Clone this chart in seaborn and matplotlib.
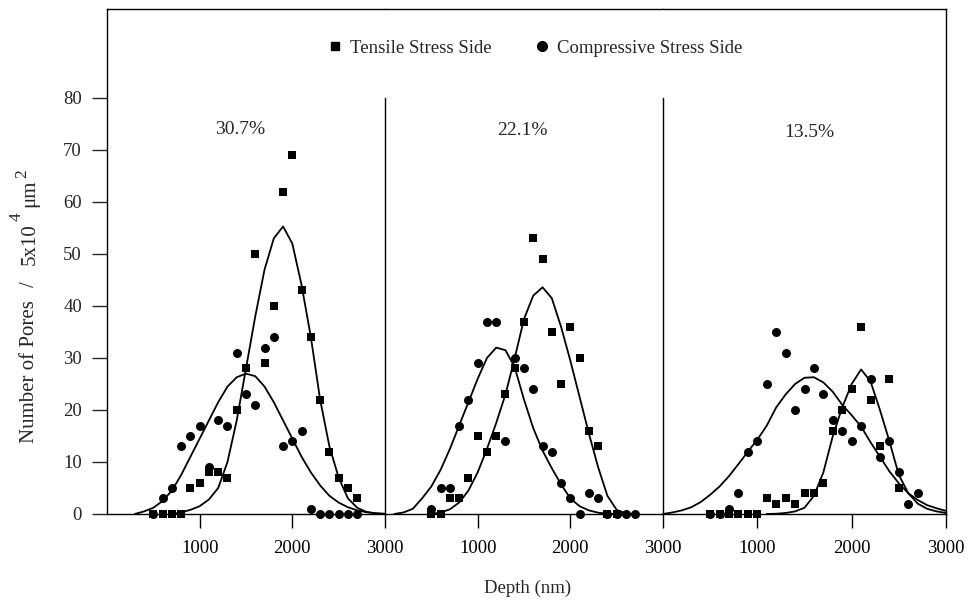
import matplotlib
matplotlib.use("Agg")
import matplotlib.pyplot as plt
import seaborn as sns
import pandas as pd
from matplotlib.lines import Line2D

sns.set_style("ticks")
plt.rcParams['font.family'] = ['Liberation Serif', 'DejaVu Serif']

# ---------------- data ----------------
panel_labels = ["30.7%", "22.1%", "13.5%"]
series_names = ["Tensile Stress Side", "Compressive Stress Side"]

# scatter points (depth in nm, number of pores)
p1_t_depth = [500, 600, 700, 800, 900, 1000, 1100, 1200, 1300, 1400, 1500, 1600,
              1700, 1800, 1900, 2000, 2100, 2200, 2300, 2400, 2500, 2600, 2700]
p1_t_count = [0, 0, 0, 0, 5, 6, 8, 8, 7, 20, 28, 50, 29, 40, 62, 69, 43, 34, 22, 12, 7, 5, 3]
p1_c_depth = [500, 600, 700, 800, 900, 1000, 1100, 1200, 1300, 1400, 1500, 1600,
              1700, 1800, 1900, 2000, 2100, 2200, 2300, 2400, 2500, 2600, 2700]
p1_c_count = [0, 3, 5, 13, 15, 17, 9, 18, 17, 31, 23, 21, 32, 34, 13, 14, 16, 1, 0, 0, 0, 0, 0]

p2_t_depth = [500, 600, 700, 800, 900, 1000, 1100, 1200, 1300, 1400, 1500, 1600,
              1700, 1800, 1900, 2000, 2100, 2200, 2300, 2400, 2500]
p2_t_count = [0, 0, 3, 3, 7, 15, 12, 15, 23, 28, 37, 53, 49, 35, 25, 36, 30, 16, 13, 0, 0]
p2_c_depth = [500, 600, 700, 800, 900, 1000, 1100, 1200, 1300, 1400, 1500, 1600,
              1700, 1800, 1900, 2000, 2100, 2200, 2300, 2400, 2500, 2600, 2700]
p2_c_count = [1, 5, 5, 17, 22, 29, 37, 37, 14, 30, 28, 24, 13, 12, 6, 3, 0, 4, 3, 0, 0, 0, 0]

p3_t_depth = [500, 600, 700, 800, 900, 1000, 1100, 1200, 1300, 1400, 1500, 1600,
              1700, 1800, 1900, 2000, 2100, 2200, 2300, 2400, 2500]
p3_t_count = [0, 0, 0, 0, 0, 0, 3, 2, 3, 2, 4, 4, 6, 16, 20, 24, 36, 22, 13, 26, 5]
p3_c_depth = [500, 600, 700, 800, 900, 1000, 1100, 1200, 1300, 1400, 1500, 1600,
              1700, 1800, 1900, 2000, 2100, 2200, 2300, 2400, 2500, 2600, 2700]
p3_c_count = [0, 0, 1, 4, 12, 14, 25, 35, 31, 20, 24, 28, 23, 18, 16, 14, 17, 26, 11, 14, 8, 2, 4]

# fitted curves
p1_t_fit_depth = [700, 800, 900, 1000, 1100, 1200, 1300, 1400, 1500, 1600, 1700, 1800,
                  1900, 2000, 2100, 2200, 2300, 2400, 2500, 2600, 2700, 2800, 2900, 3000]
p1_t_fit = [0, 0.3, 0.8, 1.5, 2.8, 5, 10, 18, 28, 38, 47, 53,
            55.3, 52, 44, 34, 22, 13, 7, 3, 1.2, 0.4, 0.1, 0]
p1_c_fit_depth = [300, 400, 500, 600, 700, 800, 900, 1000, 1100, 1200, 1300, 1400, 1500, 1600,
                  1700, 1800, 1900, 2000, 2100, 2200, 2300, 2400, 2500, 2600, 2700, 2800, 2900, 3000]
p1_c_fit = [0, 0.5, 1.2, 2.5, 4.5, 7.5, 11, 14.5, 18, 21.5, 24.5, 26.3, 27, 26.5,
            24.5, 21.5, 18, 14.5, 11, 8, 5.5, 3.5, 2.2, 1.3, 0.7, 0.35, 0.15, 0.05]

p2_t_fit_depth = [500, 600, 700, 800, 900, 1000, 1100, 1200, 1300, 1400, 1500, 1600, 1700,
                  1800, 1900, 2000, 2100, 2200, 2300, 2400, 2500, 2600, 2700]
p2_t_fit = [0, 0.3, 0.9, 2.2, 4.5, 8, 12.5, 17.5, 23, 30, 37.5, 42, 43.6,
            41.5, 36, 29.5, 22.5, 15.5, 9, 3.5, 0.8, 0.1, 0]
p2_c_fit_depth = [100, 200, 300, 400, 500, 600, 700, 800, 900, 1000, 1100, 1200, 1300,
                  1400, 1500, 1600, 1700, 1800, 1900, 2000, 2100, 2200, 2300, 2400, 2500]
p2_c_fit = [0, 0.3, 1, 3, 5.3, 8.5, 12.5, 17, 21.5, 26, 30, 32, 31.5,
            28.2, 22, 16.5, 12.2, 8.8, 5.7, 3, 1.5, 0.7, 0.25, 0.05, 0]

p3_t_fit_depth = [1100, 1200, 1300, 1400, 1500, 1600, 1700, 1800, 1900, 2000,
                  2100, 2200, 2300, 2400, 2500, 2600, 2700, 2800, 2900, 3000]
p3_t_fit = [0, 0.05, 0.2, 0.5, 1.2, 3.5, 8, 15, 20.5, 25,
            27.8, 25.5, 20, 14, 7.5, 4, 2, 1, 0.5, 0.2]
p3_c_fit_depth = [0, 100, 200, 300, 400, 500, 600, 700, 800, 900, 1000, 1100, 1200, 1300, 1400,
                  1500, 1600, 1700, 1800, 1900, 2000, 2100, 2200, 2300, 2400, 2500, 2600,
                  2700, 2800, 2900, 3000]
p3_c_fit = [0, 0.3, 0.7, 1.3, 2.3, 3.7, 5.3, 7.3, 9.6, 12, 14.3, 17, 20.5, 23, 25,
            26.2, 26.3, 25.3, 23.5, 21, 19, 16.8, 13.8, 11, 8.2, 5.9, 4,
            2.7, 1.7, 1.1, 0.6]

y_ticks = [0, 10, 20, 30, 40, 50, 60, 70, 80]
x_ticks = [1000, 2000, 3000]

panels = [
    (p1_t_depth, p1_t_count, p1_c_depth, p1_c_count,
     p1_t_fit_depth, p1_t_fit, p1_c_fit_depth, p1_c_fit),
    (p2_t_depth, p2_t_count, p2_c_depth, p2_c_count,
     p2_t_fit_depth, p2_t_fit, p2_c_fit_depth, p2_c_fit),
    (p3_t_depth, p3_t_count, p3_c_depth, p3_c_count,
     p3_t_fit_depth, p3_t_fit, p3_c_fit_depth, p3_c_fit),
]

# ---------------- layout ----------------
W, H = 970, 603
fig = plt.figure(figsize=(W / 100, H / 100), dpi=100)
edges = [107, 385, 663, 946]
top_px, bot_px = 9, 514
YMAX = (bot_px - top_px) / 5.2

FS = 13.5
axes = []
for i in range(3):
    l = edges[i] / W
    w = (edges[i + 1] - edges[i]) / W
    ax = fig.add_axes([l, 1 - bot_px / H, w, (bot_px - top_px) / H])
    axes.append(ax)

label_pos = [(1435, 74.0), (1480, 73.8), (1550, 73.3)]

for i, (ax, pdata) in enumerate(zip(axes, panels)):
    td, tc, cd, cc, tfd, tf, cfd, cf = pdata
    df_t = pd.DataFrame({"depth": td, "count": tc})
    df_c = pd.DataFrame({"depth": cd, "count": cc})
    df_tf = pd.DataFrame({"depth": tfd, "count": tf})
    df_cf = pd.DataFrame({"depth": cfd, "count": cf})

    sns.lineplot(data=df_cf, x="depth", y="count", ax=ax, color="black",
                 linewidth=1.3, sort=False, clip_on=False, zorder=2)
    sns.lineplot(data=df_tf, x="depth", y="count", ax=ax, color="black",
                 linewidth=1.3, sort=False, clip_on=False, zorder=2)
    sns.scatterplot(data=df_c, x="depth", y="count", ax=ax, marker="o", s=42,
                    color="black", edgecolor="black", linewidth=0, clip_on=False, zorder=3)
    sns.scatterplot(data=df_t, x="depth", y="count", ax=ax, marker="s", s=30,
                    color="black", edgecolor="black", linewidth=0, clip_on=False, zorder=3)

    ax.set_xlim(0, 3000)
    ax.set_ylim(0, YMAX)
    ax.set_xlabel("")
    ax.set_ylabel("")
    ax.set_xticks(x_ticks)
    ax.set_xticklabels([str(v) for v in x_ticks], fontsize=FS)
    ax.tick_params(axis="x", direction="out", length=10, width=1.0, pad=9,
                   colors="black", labelsize=FS)
    for s in ax.spines.values():
        s.set_linewidth(1.0)
        s.set_color("black")
    ax.spines["top"].set_visible(True)
    ax.spines["right"].set_visible(i == 2)
    if i == 0:
        ax.set_yticks(y_ticks)
        ax.set_yticklabels([str(v) for v in y_ticks], fontsize=FS)
        ax.tick_params(axis="y", direction="out", length=11, width=1.0, pad=7,
                       labelsize=FS)
    else:
        ax.set_yticks([])
        ax.spines["left"].set_bounds(0, 80)
    ax.text(label_pos[i][0], label_pos[i][1], panel_labels[i], ha="center",
            va="center", fontsize=14)

fig.text(528 / W, 1 - 588 / H, "Depth (nm)", ha="center", va="center", fontsize=FS)

# y-axis label assembled from pieces (full-size raised exponents as in the original)
ylabel_parts = [
    ("Number of Pores", 34.5, 443, 15),
    ("/", 34.5, 287, 15),
    ("5x10", 34.5, 265, 15),
    ("4", 21.0, 221, 12.5),
    ("μm", 34.5, 207, 15),
    ("2", 26.5, 178, 12.5),
]
for txt, xb, yb, fs in ylabel_parts:
    fig.text(xb / W, 1 - yb / H, txt, rotation=90, rotation_mode="anchor",
             ha="left", va="baseline", fontsize=fs)

handles = [
    Line2D([], [], marker="s", linestyle="none", color="black", markersize=6),
    Line2D([], [], marker="o", linestyle="none", color="black", markersize=7),
]
fig.legend(handles, series_names, loc="center", bbox_to_anchor=(534 / W, 1 - 48 / H),
           ncol=2, frameon=False, fontsize=FS, handletextpad=0.3,
           columnspacing=2.2, handlelength=1.0)

fig.savefig("out.png", dpi=100)
